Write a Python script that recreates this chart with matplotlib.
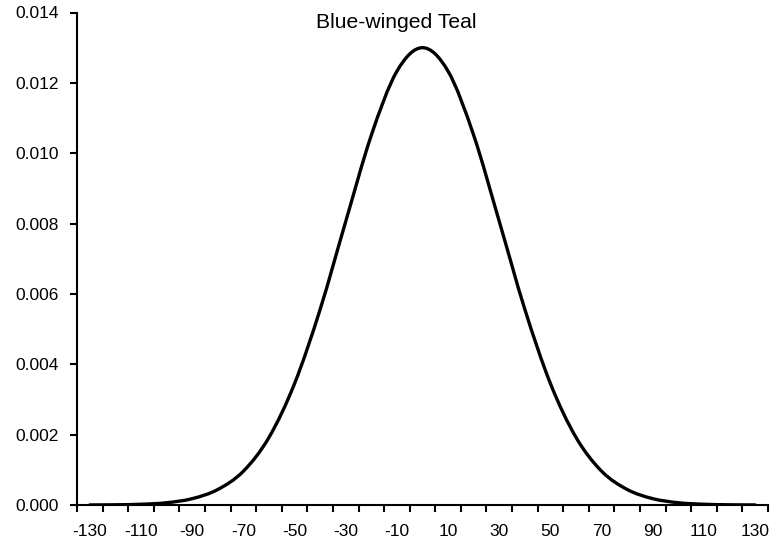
import numpy as np
import matplotlib.pyplot as plt
from matplotlib.path import Path
from matplotlib.patches import PathPatch

plt.rcParams['font.family'] = ['Liberation Sans', 'DejaVu Sans']

# values
x_vals = [-130, -120, -110, -100, -90, -80, -70, -60, -50, -40, -30, -20, -10,
          0, 10, 20, 30, 40, 50, 60, 70, 80, 90, 100, 110, 120, 130]
y_vals = [0.0000017, 0.0000062, 0.000021, 0.000064, 0.00018, 0.00044, 0.00096,
          0.00192, 0.00345, 0.00556, 0.00806, 0.01051, 0.01233,
          0.01300, 0.01233, 0.01051, 0.00806, 0.00556, 0.00345, 0.00192,
          0.00096, 0.00044, 0.00018, 0.000064, 0.000021, 0.0000062, 0.0000017]
x_labels = [-130, -110, -90, -70, -50, -30, -10, 10, 30, 50, 70, 90, 110, 130]
y_ticks = [0.000, 0.002, 0.004, 0.006, 0.008, 0.010, 0.012, 0.014]
title = 'Blue-winged Teal'

fig = plt.figure(figsize=(7.84, 5.45), dpi=100)
ax = fig.add_axes([77 / 784, 40 / 545, (768 - 77) / 784, (505 - 12.5) / 545])

# smoothed line like a spreadsheet chart: cubic bezier through the points
pts = np.column_stack([x_vals, y_vals])
verts = [pts[0]]
codes = [Path.MOVETO]
n = len(pts)
for i in range(n - 1):
    p0 = pts[i - 1] if i > 0 else pts[i]
    p1, p2 = pts[i], pts[i + 1]
    p3 = pts[i + 2] if i + 2 < n else pts[i + 1]
    c1 = p1 + (p2 - p0) / 6
    c2 = p2 - (p3 - p1) / 6
    verts += [c1, c2, p2]
    codes += [Path.CURVE4] * 3
ax.add_patch(PathPatch(Path(verts, codes), fill=False, lw=2.4, color='black',
                       capstyle='round', joinstyle='round'))

ax.set_xlim(-135, 135)
ax.set_ylim(0, 0.014)

ax.set_xticks(np.arange(-135, 136, 10))
ax.set_xticklabels([])
ax.set_xticks(x_labels, minor=True)
ax.set_xticklabels([str(v) for v in x_labels], minor=True)
ax.tick_params(axis='x', which='major', direction='out', length=5, width=1.5)
ax.tick_params(axis='x', which='minor', length=0, pad=14, labelsize=12.5)

ax.set_yticks(y_ticks)
ax.set_yticklabels(['%.3f' % v for v in y_ticks])
ax.tick_params(axis='y', direction='out', length=5, width=1.5, pad=8, labelsize=12.5)

for s in ['top', 'right']:
    ax.spines[s].set_visible(False)
for s in ['left', 'bottom']:
    ax.spines[s].set_linewidth(1.5)

fig.text(396 / 784, 1 - 22 / 545, title, ha='center', va='center', fontsize=15.2)

fig.savefig('out.png', dpi=100)
